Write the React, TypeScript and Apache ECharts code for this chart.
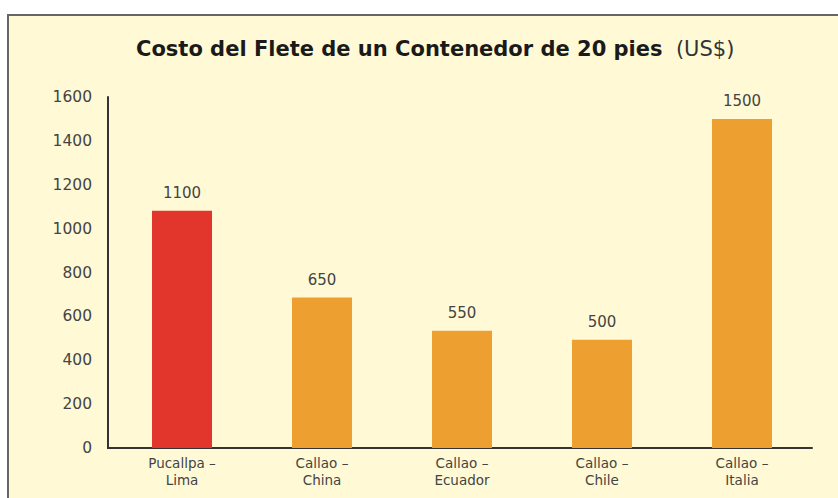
import React, { useEffect, useRef } from "react";
import * as echarts from "echarts";

const categories = [
  "Pucallpa –\nLima",
  "Callao –\nChina",
  "Callao –\nEcuador",
  "Callao –\nChile",
  "Callao –\nItalia",
];
// bar heights as drawn in the picture
const barValues = [1082, 686, 535, 493, 1500];
// value labels printed above the bars
const valueLabels = ["1100", "650", "550", "500", "1500"];
const yTicks = [0, 200, 400, 600, 800, 1000, 1200, 1400, 1600];

const RED = "#E2352B";
const ORANGE = "#EDA030";
const FONT = "DejaVu Sans";

export default function App() {
  const ref = useRef<HTMLDivElement>(null);
  useEffect(() => {
    if (!ref.current) return;
    const chart = echarts.init(ref.current, null, { renderer: "svg" });
    chart.setOption({
      animation: false,
      backgroundColor: "#ffffff",
      graphic: [
        {
          type: "rect",
          z: -10,
          shape: { x: 8, y: 15, width: 850, height: 500 },
          style: { fill: "#FFFAD5", stroke: "#666666", lineWidth: 2 },
          silent: true,
        },
        {
          type: "line",
          shape: { x1: 107, y1: 448, x2: 113, y2: 448 },
          style: { stroke: "#333333", lineWidth: 2 },
          silent: true,
        },
      ],
      title: {
        left: 131,
        top: 33,
        text: "{b|Costo del Flete de un Contenedor de 20 pies}{n|  (US$)}",
        textStyle: {
          rich: {
            b: { fontFamily: FONT, fontSize: 21, fontWeight: "bold", color: "#1a1a1a" },
            n: { fontFamily: FONT, fontSize: 21, fontWeight: "normal", color: "#333333" },
          },
        },
      },
      grid: { left: 112, right: 26, top: 97, bottom: 50 },
      xAxis: {
        type: "category",
        data: categories,
        axisLine: { lineStyle: { color: "#333333", width: 2 } },
        axisTick: { show: false },
        axisLabel: {
          color: "#444444",
          fontFamily: FONT,
          fontSize: 13.5,
          lineHeight: 17,
          margin: 6,
          interval: 0,
        },
      },
      yAxis: {
        type: "value",
        min: yTicks[0],
        max: yTicks[yTicks.length - 1],
        interval: 200,
        offset: 4,
        axisLine: { show: true, lineStyle: { color: "#333333", width: 2 } },
        axisTick: { show: false },
        splitLine: { show: false },
        axisLabel: {
          color: "#444444",
          fontFamily: FONT,
          fontSize: 15.5,
          margin: 16,
          formatter: (v: number) => String(v),
        },
      },
      series: [
        {
          type: "bar",
          barWidth: 60,
          data: barValues.map((v, i) => ({
            value: v,
            itemStyle: { color: i === 0 ? RED : ORANGE },
          })),
          label: {
            show: true,
            position: "top",
            distance: 10,
            color: "#444444",
            fontFamily: FONT,
            fontSize: 15,
            formatter: (p: any) => valueLabels[p.dataIndex],
          },
        },
      ],
    });
    return () => chart.dispose();
  }, []);
  return (
    <div
      ref={ref}
      style={{ position: "fixed", left: 0, top: 0, width: 838, height: 498 }}
    />
  );
}
